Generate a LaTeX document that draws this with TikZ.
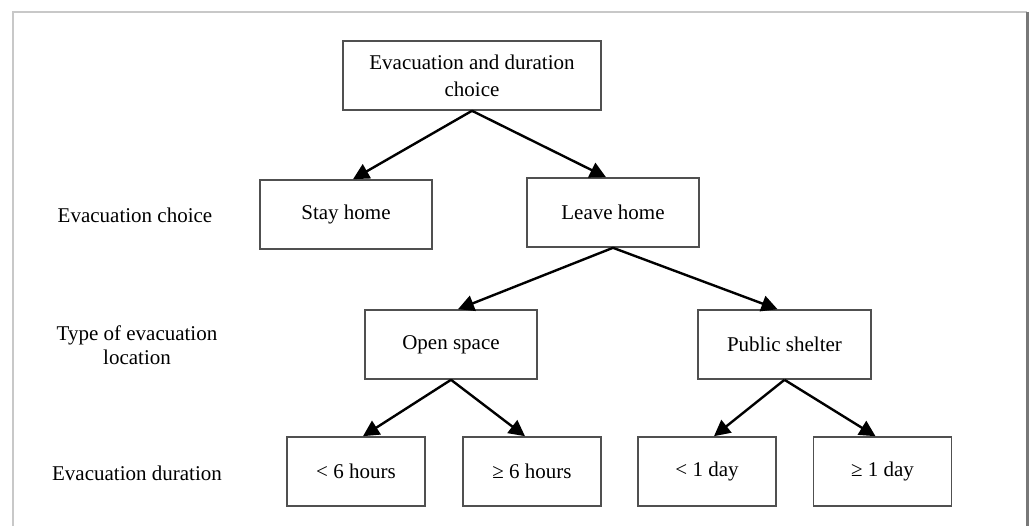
\documentclass[tikz,border=0pt]{standalone}
\usepackage{fontspec}
\setmainfont{Liberation Serif}
\usetikzlibrary{arrows.meta,positioning}
\definecolor{frameline}{RGB}{200,200,200}
\definecolor{frameedge}{RGB}{120,120,120}
\definecolor{boxline}{RGB}{80,80,80}
\tikzset{
  >={Triangle[length=16pt,width=16pt]},
  choice/.style={draw=boxline,line width=1.6pt,minimum width=172pt,minimum height=69pt,
    align=center,inner sep=0pt,font=\fontsize{21}{27}\selectfont},
  spell/.style={choice,minimum width=138pt},
  level/.style={align=center,font=\fontsize{21}{24}\selectfont},
  branch/.style={->,line width=2.4pt,draw=black},
}
\begin{document}
\begin{tikzpicture}[x=1pt,y=-1pt]
  \useasboundingbox (0,0) rectangle (1033,526);
  % frame
  \draw[frameline,line width=1.5pt] (13,526) -- (13,12) -- (1027,12);
  \draw[frameedge,line width=3pt] (1027,12) -- (1027,526);
  % tree
  \node[choice,minimum width=258pt] (top) at (472,75.5) {Evacuation and duration\\choice};
  \node[choice] (stay) at (346,214.5) {Stay home};
  \node[choice] (leave) at (613,212.5) {Leave home};
  \node[choice] (open) at (451,344.5) {Open space};
  \node[choice,minimum width=173pt] (shelter) at (784.5,344.5) {Public shelter};
  \node[spell] (h6less) at (356,471.5) {< 6 hours};
  \node[spell] (h6more) at (532,471.5) {≥ 6 hours};
  \node[spell] (d1less) at (707,471.5) {< 1 day};
  \node[spell] (d1more) at (882.5,471.5) {≥ 1 day};
  % levels
  \node[level] (lchoice) at (135,215) {Evacuation choice};
  \node[level] (ltype) at (137,345) {Type of evacuation\\location};
  \node[level] (ldur) at (137,473) {Evacuation duration};
  % arrows
  \foreach \p/\c/\s in {top/stay/7,top/leave/-7,leave/open/7,leave/shelter/-7,
    open/h6less/7,open/h6more/-7,shelter/d1less/7,shelter/d1more/-7}
    \draw[branch] (\p.south) -- ([xshift=\s pt]\c.north);
\end{tikzpicture}
\end{document}
